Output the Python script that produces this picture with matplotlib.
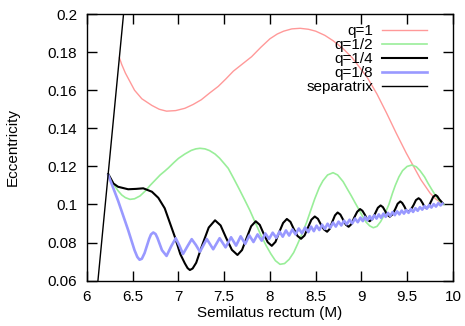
import matplotlib
matplotlib.use("Agg")
from matplotlib import pyplot as plt

plt.rcParams['font.family'] = ['Liberation Sans', 'DejaVu Sans']

# q=1
p_q1 = [6.355, 6.38, 6.42, 6.47, 6.52, 6.60, 6.71, 6.79, 6.87, 6.97, 7.07, 7.16, 7.25,
        7.34, 7.435, 7.52, 7.6, 7.70, 7.80, 7.90, 8.0, 8.08, 8.15, 8.24, 8.33, 8.42,
        8.5, 8.6, 8.69, 8.8, 8.9, 8.98, 9.06, 9.17, 9.275, 9.38, 9.49, 9.57, 9.65, 9.70,
        9.75, 9.81, 9.876]
e_q1 = [0.177, 0.1735, 0.169, 0.1645, 0.160, 0.1555, 0.152, 0.1500, 0.149, 0.1493,
        0.1505, 0.1525, 0.155, 0.1585, 0.162, 0.166, 0.170, 0.1738, 0.1776, 0.1825,
        0.187, 0.1895, 0.191, 0.1922, 0.1925, 0.192, 0.191, 0.1888, 0.186, 0.1818, 0.177,
        0.172, 0.167, 0.158, 0.148, 0.1375, 0.127, 0.120, 0.113, 0.1095, 0.106, 0.103,
        0.1006]

# q=1/2
p_q2 = [6.233, 6.27, 6.30, 6.34, 6.38, 6.42, 6.47, 6.52, 6.58, 6.64, 6.69, 6.75, 6.80,
        6.85, 6.89, 6.95, 7.00, 7.07, 7.14, 7.19, 7.235, 7.29, 7.34, 7.40, 7.45, 7.50,
        7.544, 7.60, 7.66, 7.72, 7.78, 7.84, 7.90, 7.96, 8.01, 8.06, 8.11, 8.16, 8.21,
        8.26, 8.30, 8.35, 8.40, 8.45, 8.49, 8.54, 8.58, 8.63, 8.69, 8.74, 8.80, 8.85,
        8.89, 8.93, 8.965, 9.01, 9.05, 9.09, 9.13, 9.17, 9.21, 9.26, 9.30, 9.34, 9.37,
        9.41, 9.45, 9.50, 9.55, 9.60, 9.64, 9.69, 9.73, 9.77, 9.80, 9.83, 9.86, 9.90]
e_q2 = [0.1160, 0.1125, 0.1100, 0.1072, 0.1050, 0.1036, 0.1027, 0.1030, 0.1045, 0.1072,
        0.1100, 0.1130, 0.1155, 0.1175, 0.1192, 0.1220, 0.1242, 0.1265, 0.1284, 0.1292,
        0.1295, 0.1292, 0.1283, 0.1265, 0.1243, 0.1215, 0.1190, 0.1140, 0.1085, 0.1028,
        0.0970, 0.0905, 0.0840, 0.0783, 0.0741, 0.0705, 0.0686, 0.0690, 0.0712, 0.0748,
        0.0790, 0.0845, 0.0905, 0.0975, 0.1030, 0.1090, 0.1125, 0.1155, 0.1167, 0.1155,
        0.1120, 0.1078, 0.1045, 0.1010, 0.0980, 0.0940, 0.0908, 0.0888, 0.0878, 0.0885,
        0.0910, 0.0955, 0.1000, 0.1060, 0.1100, 0.1145, 0.1178, 0.1200, 0.1207, 0.1198,
        0.1178, 0.1145, 0.1110, 0.1078, 0.1055, 0.1033, 0.1015, 0.1000]

# q=1/4
p_q4 = [6.233, 6.29, 6.34, 6.45, 6.54, 6.615, 6.71, 6.78, 6.85, 6.96, 7.02, 7.07, 7.10,
        7.125, 7.155, 7.194, 7.26, 7.331, 7.40, 7.461, 7.52, 7.584, 7.645, 7.695, 7.745,
        7.795, 7.845, 7.889, 7.93, 7.976, 8.02, 8.061, 8.10, 8.144, 8.185, 8.224, 8.26,
        8.301, 8.34, 8.378, 8.415, 8.453, 8.49, 8.524, 8.555, 8.591, 8.625, 8.654, 8.68,
        8.711, 8.74, 8.77, 8.80, 8.83, 8.86, 8.891, 8.92, 8.954, 8.985, 9.011, 9.04,
        9.064, 9.09, 9.12, 9.15, 9.18, 9.21, 9.235, 9.26, 9.285, 9.31, 9.339, 9.37,
        9.396, 9.425, 9.446, 9.47, 9.489, 9.51, 9.539, 9.57, 9.596, 9.625, 9.646, 9.67,
        9.689, 9.71, 9.735, 9.76, 9.785, 9.81, 9.83, 9.85, 9.89]
e_q4 = [0.1160, 0.1110, 0.1093, 0.1080, 0.1082, 0.1085, 0.1067, 0.1035, 0.0980, 0.0831,
        0.0740, 0.0691, 0.0666, 0.0656, 0.0664, 0.0694, 0.0787, 0.0879, 0.0917, 0.0890,
        0.0826, 0.0762, 0.0735, 0.0761, 0.0824, 0.0886, 0.0912, 0.0893, 0.0848, 0.0802,
        0.0783, 0.0804, 0.0853, 0.0903, 0.0924, 0.0909, 0.0872, 0.0835, 0.0820, 0.0837,
        0.0878, 0.0920, 0.0937, 0.0925, 0.0897, 0.0869, 0.0857, 0.0872, 0.0907, 0.0943,
        0.0958, 0.0947, 0.0920, 0.0894, 0.0883, 0.0897, 0.0930, 0.0962, 0.0976, 0.0967,
        0.0944, 0.0921, 0.0912, 0.0924, 0.0953, 0.0983, 0.0995, 0.0986, 0.0965, 0.0945,
        0.0936, 0.0948, 0.0976, 0.1004, 0.1016, 0.1008, 0.0989, 0.0970, 0.0962, 0.0972,
        0.0997, 0.1023, 0.1033, 0.1025, 0.1006, 0.0988, 0.0980, 0.0990, 0.1015, 0.1040,
        0.1050, 0.1043, 0.1028, 0.1006]

# q=1/8
p_q8 = [6.233, 6.34, 6.45, 6.52, 6.55, 6.575, 6.60, 6.63, 6.68, 6.70, 6.725, 6.75, 6.77,
        6.82, 6.87, 6.92, 6.97, 7.01, 7.05, 7.10, 7.145, 7.19, 7.235, 7.31, 7.38, 7.45,
        7.515, 7.575, 7.63, 7.68, 7.73, 7.775, 7.82, 7.865, 7.91, 7.95, 7.99, 8.03, 8.07,
        8.105, 8.14, 8.175, 8.21, 8.245, 8.28, 8.315, 8.35, 8.385, 8.42, 8.45, 8.48, 8.51,
        8.54, 8.57, 8.60, 8.63, 8.66, 8.69, 8.72, 8.75, 8.78, 8.81, 8.84, 8.87, 8.90,
        8.93, 8.96, 8.99, 9.015, 9.04, 9.065, 9.09, 9.115, 9.14, 9.165, 9.19, 9.215,
        9.24, 9.265, 9.29, 9.315, 9.34, 9.365, 9.39, 9.415, 9.44, 9.465, 9.49, 9.515,
        9.54, 9.565, 9.59, 9.615, 9.64, 9.665, 9.69, 9.715, 9.74, 9.765, 9.79, 9.815,
        9.84, 9.865, 9.885]
e_q8 = [0.1155, 0.1020, 0.0866, 0.0760, 0.0725, 0.0710, 0.0715, 0.0745, 0.0820, 0.0843,
        0.0853, 0.0845, 0.0825, 0.0760, 0.0730, 0.0780, 0.0823, 0.0785, 0.0740, 0.0782,
        0.0818, 0.0788, 0.0752, 0.0819, 0.0765, 0.0823, 0.0775, 0.0828, 0.0784, 0.0833,
        0.0793, 0.0838, 0.0803, 0.0843, 0.0810, 0.0848, 0.0819, 0.0852, 0.0825, 0.0858,
        0.0831, 0.0864, 0.0837, 0.0869, 0.0843, 0.0874, 0.0849, 0.0879, 0.0855, 0.0884,
        0.0860, 0.0889, 0.0866, 0.0894, 0.0872, 0.0899, 0.0878, 0.0905, 0.0884, 0.0910,
        0.0890, 0.0915, 0.0896, 0.0920, 0.0901, 0.0926, 0.0907, 0.0931, 0.0913, 0.0935,
        0.0917, 0.0939, 0.0921, 0.0943, 0.0926, 0.0948, 0.0930, 0.0952, 0.0935, 0.0956,
        0.0940, 0.0960, 0.0944, 0.0964, 0.0948, 0.0968, 0.0952, 0.0971, 0.0956, 0.0976,
        0.0961, 0.0981, 0.0967, 0.0986, 0.0973, 0.0992, 0.0978, 0.0997, 0.0984, 0.1002,
        0.0989, 0.1007, 0.0995, 0.1004]

# separatrix p = 6 + 2e
p_sep = [6.12, 6.40]
e_sep = [0.06, 0.20]

xticks = [6, 6.5, 7, 7.5, 8, 8.5, 9, 9.5, 10]
xlabels = ["6", "6.5", "7", "7.5", "8", "8.5", "9", "9.5", "10"]
yticks = [0.06, 0.08, 0.1, 0.12, 0.14, 0.16, 0.18, 0.2]
ylabels = ["0.06", "0.08", "0.1", "0.12", "0.14", "0.16", "0.18", "0.2"]


def main():
    fig = plt.figure(figsize=(4.65, 3.26), dpi=100)
    ax = fig.add_axes([0.187, 0.139, 0.787, 0.818])

    ax.plot(p_q1, e_q1, color="#ff9999", lw=1.0, label="q=1")
    ax.plot(p_q2, e_q2, color="#99ee99", lw=1.2, label="q=1/2")
    ax.plot(p_q4, e_q4, color="black", lw=1.5, label="q=1/4", solid_joinstyle="round")
    ax.plot(p_q8, e_q8, color="#9999ff", lw=1.9, label="q=1/8", solid_joinstyle="round")
    ax.plot(p_sep, e_sep, color="black", lw=1.0, label="separatrix")

    ax.set_xlim(6, 10)
    ax.set_ylim(0.06, 0.2)
    ax.set_xticks(xticks)
    ax.set_xticklabels(xlabels)
    ax.set_yticks(yticks)
    ax.set_yticklabels(ylabels)
    ax.tick_params(direction="in", top=True, right=True, length=7, width=1,
                   labelsize=11, pad=7)
    for s in ax.spines.values():
        s.set_linewidth(1.0)

    ax.set_xlabel("Semilatus rectum (M)", fontsize=11)
    ax.set_ylabel("Eccentricity", fontsize=11)
    ax.xaxis.set_label_coords(0.5, -0.095)
    ax.yaxis.set_label_coords(-0.185, 0.5)

    ax.legend(loc="upper right", bbox_to_anchor=(0.928, 0.962), frameon=False,
              markerfirst=False, fontsize=11, handlelength=2.9, handletextpad=0.6,
              labelspacing=0.0, borderpad=0, borderaxespad=0)

    fig.savefig("out.png", dpi=100)


if __name__ == "__main__":
    main()
